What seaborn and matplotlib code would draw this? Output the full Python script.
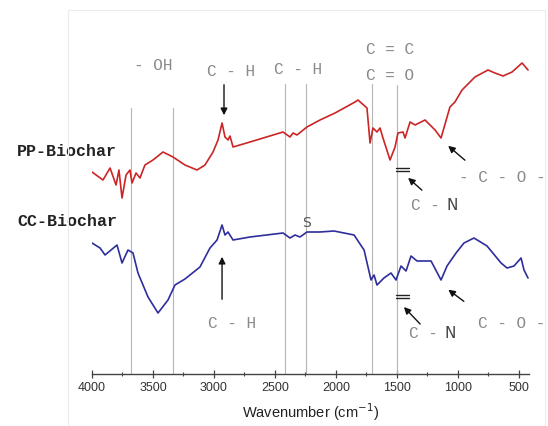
import numpy as np
import pandas as pd
import seaborn as sns
import matplotlib.pyplot as plt
from matplotlib.patches import Rectangle

# FTIR spectra (wavenumber in cm-1, transmittance in arbitrary units)
pp_wn = [4000, 3910, 3852, 3803, 3779, 3754, 3721, 3689, 3672, 3639, 3607, 3566,
         3500, 3418, 3336, 3238, 3139, 3074, 3008, 2967, 2934, 2910, 2885, 2869,
         2844, 2705, 2434, 2377, 2352, 2320, 2238, 2131, 2008, 1844, 1820, 1746,
         1721, 1697, 1664, 1639, 1615, 1557, 1516, 1492, 1451, 1434, 1393, 1352,
         1270, 1188, 1139, 1066, 1025, 967, 861, 754, 697, 631, 557, 475, 426]
pp_t = [202, 194, 206, 189, 204, 176, 199, 204, 191, 201, 196, 209,
        214, 222, 217, 209, 204, 209, 222, 234, 251, 237, 234, 238,
        227, 232, 242, 237, 241, 239, 247, 254, 261, 272, 274, 266,
        231, 246, 242, 246, 236, 214, 227, 241, 242, 236, 252, 249,
        254, 244, 236, 267, 272, 284, 297, 304, 301, 298, 302, 311, 304]

cc_wn = [4000, 3934, 3893, 3795, 3754, 3705, 3664, 3623, 3541, 3459, 3377, 3320,
         3238, 3115, 3033, 2975, 2934, 2910, 2885, 2844, 2705, 2434, 2377, 2336,
         2295, 2238, 2131, 2016, 1852, 1770, 1713, 1688, 1664, 1607, 1549, 1508,
         1467, 1426, 1385, 1336, 1221, 1139, 1090, 1016, 951, 869, 762, 647,
         598, 541, 483, 459, 426]
cc_t = [131, 126, 119, 129, 111, 124, 121, 101, 77, 61, 74, 89,
        95, 107, 126, 134, 149, 139, 142, 134, 137, 141, 136, 139,
        137, 142, 142, 143, 139, 124, 94, 99, 89, 96, 101, 94,
        108, 103, 118, 113, 113, 94, 108, 121, 131, 136, 128, 111,
        106, 108, 116, 104, 96]

# reference band positions (gray vertical lines) and their top ends
band_wn = [3680, 3336, 2418, 2246, 1705, 1500]
band_top = [266, 266, 290, 290, 290, 289]

xticks = [4000, 3500, 3000, 2500, 2000, 1500, 1000, 500]

sns.set_theme(style="white")
plt.rcParams['font.family'] = ['Liberation Sans', 'DejaVu Sans']

fig = plt.figure(figsize=(5.48, 4.26), dpi=100)
ax = fig.add_axes([92 / 548, 1 - 374 / 426, 437 / 548, 364 / 426])

# faint frame of the original figure
fig.add_artist(Rectangle((68 / 548, 0), 477 / 548, 1 - 10 / 426, transform=fig.transFigure,
                         fill=False, edgecolor='#ececec', lw=0.8))

pp = pd.DataFrame({'wn': pp_wn, 't': pp_t})
cc = pd.DataFrame({'wn': cc_wn, 't': cc_t})

for w, top in zip(band_wn, band_top):
    ax.plot([w, w], [0, top], color='#b5b5b5', lw=0.8, zorder=1)

sns.lineplot(data=pp, x='wn', y='t', color='#cc2525', lw=1.2, estimator=None, ax=ax, zorder=3)
sns.lineplot(data=cc, x='wn', y='t', color='#2e2e9c', lw=1.2, estimator=None, ax=ax, zorder=3)

ax.set_xlim(4000, 418)
ax.set_ylim(0, 364)
ax.set_xticks(xticks)
ax.set_xticks(np.arange(3750, 400, -500), minor=True)
ax.set_yticks([])
ax.set_ylabel('')
for s in ['top', 'left', 'right']:
    ax.spines[s].set_visible(False)
ax.spines['bottom'].set_color('#444444')
ax.spines['bottom'].set_linewidth(1.0)
ax.tick_params(axis='x', which='major', direction='inout', length=6, width=0.9,
               color='#444444', labelsize=9, labelcolor='#333333', pad=3, bottom=True)
ax.tick_params(axis='x', which='minor', direction='inout', length=3, width=0.8,
               color='#444444', bottom=True)
ax.set_xlabel('Wavenumber (cm$^{-1}$)', fontsize=10.5, color='#222222', labelpad=5)

# sample labels
lab = dict(family='Liberation Mono', fontweight='bold', fontsize=12, color='#222222',
           ha='left', va='center')
ax.text(4615, 222, 'PP-Biochar', **lab)
ax.text(4615, 153, 'CC-Biochar', **lab)

# band labels
g = dict(family='Liberation Mono', fontsize=11.5, color='#8a8a8a', ha='center', va='center')
ax.text(3500, 309, '- OH', **g)
ax.text(2861, 302, 'C - H', **g)
ax.text(2311, 304, 'C - H', **g)
ax.text(1557, 324, 'C = C', **g)
ax.text(1557, 298, 'C = O', **g)
ax.text(639, 197, '- C - O -', **g)
ax.text(557, 51, 'C - O -', **g)
ax.text(2852, 51, 'C - H', **g)
ax.text(1270, 169, 'C -', **g)
ax.text(1287, 41, 'C -', **g)
ax.text(1049, 169, 'N', family='DejaVu Sans', fontsize=11, color='#444444', ha='center', va='center')
ax.text(1066, 41, 'N', family='DejaVu Sans', fontsize=11, color='#444444', ha='center', va='center')
ax.text(2238, 151, 'S', family='DejaVu Sans', fontsize=10, color='#555555', ha='center', va='center')

# arrows
arr = dict(arrowstyle='-|>', color='#111111', lw=1.0, mutation_scale=10)
ax.annotate('', xy=(2918, 256), xytext=(2918, 292), arrowprops=arr)
ax.annotate('', xy=(2934, 120), xytext=(2934, 72), arrowprops=arr)
ax.annotate('', xy=(1098, 230), xytext=(926, 212), arrowprops=arr)
ax.annotate('', xy=(1098, 86), xytext=(934, 71), arrowprops=arr)
ax.annotate('', xy=(1426, 198), xytext=(1279, 182), arrowprops=arr)
ax.annotate('', xy=(1459, 69), xytext=(1295, 48), arrowprops=arr)

# short double bars next to the C - N arrows
for y0 in [206, 203, 79, 76]:
    ax.plot([1510, 1405], [y0, y0], color='#222222', lw=1.0, zorder=4)

fig.savefig('out.png', dpi=100)
